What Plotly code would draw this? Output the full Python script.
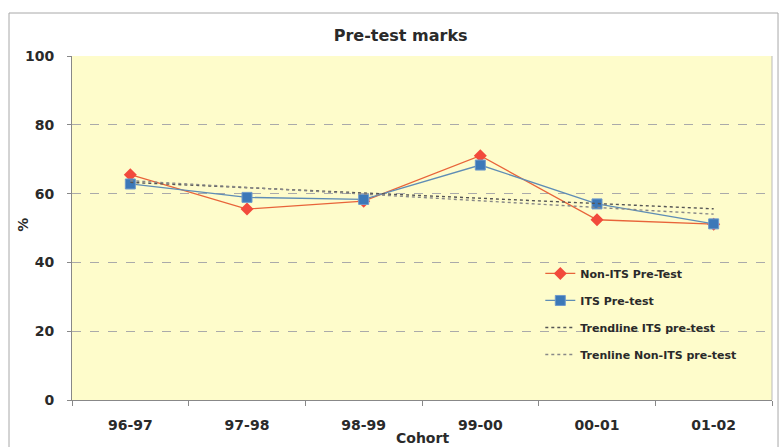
import numpy as np
import plotly.graph_objects as go

cohorts = ["96-97", "97-98", "98-99", "99-00", "00-01", "01-02"]
non_its = [65.5, 55.5, 57.8, 71.0, 52.4, 51.1]
its = [62.8, 58.9, 58.3, 68.3, 57.0, 51.2]
y_ticks = [0, 20, 40, 60, 80, 100]

xi = np.arange(len(cohorts))
its_fit = np.polyval(np.polyfit(xi, its, 1), xi)
non_fit = np.polyval(np.polyfit(xi, non_its, 1), xi)

FONT = "DejaVu Sans, Verdana, sans-serif"
TXT = "#2A2A2A"
fig = go.Figure()
fig.add_trace(go.Scatter(x=cohorts, y=non_its, name="Non-ITS Pre-Test", mode="lines+markers",
                         legendgroup="a",
                         line=dict(color="#E8643A", width=1.3),
                         marker=dict(symbol="diamond", size=10, color="#F24A3C")))
fig.add_trace(go.Scatter(x=cohorts, y=its, name="ITS Pre-test", mode="lines+markers",
                         legendgroup="b",
                         line=dict(color="#5F8DB5", width=1.3),
                         marker=dict(symbol="square", size=10, color="#3C78B8",
                                     line=dict(color="#6F9ACB", width=1))))
fig.add_trace(go.Scatter(x=cohorts, y=its_fit, name="Trendline ITS pre-test", mode="lines",
                         legendgroup="c",
                         line=dict(color="#555555", width=1.4, dash="dot")))
fig.add_trace(go.Scatter(x=cohorts, y=non_fit, name="Trenline Non-ITS pre-test", mode="lines",
                         legendgroup="d",
                         line=dict(color="#888888", width=1.4, dash="dot")))

# outer chart border and right plot edge
fig.add_shape(type="rect", xref="paper", yref="paper", x0=-0.09, x1=1.0086, y0=-0.14, y1=1.125,
              line=dict(color="#A8A8A8", width=1), layer="below")
fig.add_shape(type="line", xref="paper", yref="paper", x0=1, x1=1, y0=0, y1=1,
              line=dict(color="#BBBBBB", width=1))

fig.add_annotation(text="Cohort", xref="paper", yref="paper", x=0.5, y=-0.11,
                   xanchor="center", yanchor="middle", showarrow=False,
                   font=dict(family=FONT, size=14, weight="bold", color=TXT))
fig.add_annotation(text="%", xref="paper", yref="paper", x=-0.071, y=0.51,
                   xanchor="center", yanchor="middle", showarrow=False, textangle=-90,
                   font=dict(family=FONT, size=14, weight="bold", color=TXT))

fig.update_layout(
    width=781, height=447,
    margin=dict(l=72, r=9, t=56, b=47),
    paper_bgcolor="white", plot_bgcolor="#FEFCCB",
    font=dict(family=FONT, size=14, color=TXT, weight="bold"),
    title=dict(text="Pre-test marks", x=0.513, xanchor="center", y=0.92, yanchor="middle",
               font=dict(size=16, weight="bold", color=TXT)),
    showlegend=True,
    legend=dict(x=0.669, y=0.41, xanchor="left", yanchor="top", bgcolor="rgba(0,0,0,0)",
                font=dict(size=11, weight="bold", color=TXT), tracegroupgap=8),
    xaxis=dict(type="category", range=[-0.5, 5.5], tickvals=cohorts, ticks="outside",
               tickson="boundaries", ticklen=5, tickcolor="#888888",
               showline=True, linecolor="#888888", showgrid=False, ticklabelstandoff=12,
               tickfont=dict(size=14, weight="bold")),
    yaxis=dict(range=[0, 100], tickvals=y_ticks, ticks="outside", ticklen=4, tickcolor="#888888",
               showline=True, linecolor="#888888", gridcolor="#AAAAAA", griddash="dash",
               gridwidth=1, zeroline=False, ticklabelstandoff=10,
               tickfont=dict(size=14, weight="bold")),
)
fig.write_html("out.html")
